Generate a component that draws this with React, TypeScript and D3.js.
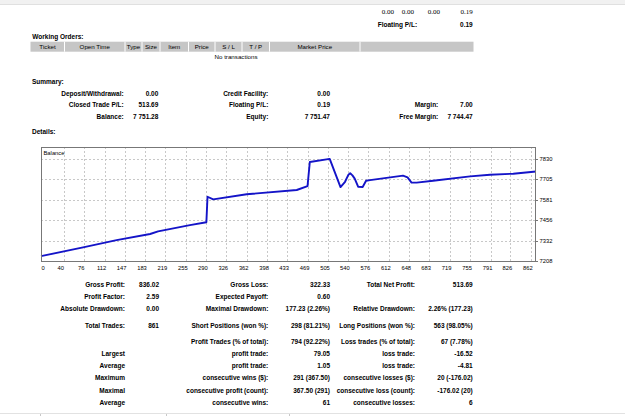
import React from 'react';
import * as d3 from 'd3';

const W = 625;
const H = 416;

// balance curve, by trade number
const balanceTrades = [0, 74, 133, 192, 206, 262, 291, 293, 303, 362, 450, 469, 473, 508, 527, 535, 541, 544, 548, 552, 558, 566, 572, 579, 637, 645, 652, 661, 690, 755, 790, 831, 871];
const balanceValues = [7237.59, 7291, 7335, 7372, 7388, 7426, 7443, 7598, 7582, 7613, 7639, 7663, 7809, 7828, 7657, 7689, 7732, 7741, 7728, 7708, 7659, 7657, 7695, 7699, 7726, 7716, 7684, 7684, 7695, 7722, 7732, 7738, 7751.28];

const xTicks = [0, 40, 76, 112, 147, 183, 219, 255, 290, 326, 362, 398, 433, 469, 505, 540, 576, 612, 648, 683, 719, 755, 791, 826, 862];
const yTicks = [7208, 7332, 7456, 7581, 7705, 7830];

const openTotals = ['0.00', '0.00', '0.00', '0.19'];
const orderColumns = ['Ticket', 'Open Time', 'Type', 'Size', 'Item', 'Price', 'S / L', 'T / P', 'Market Price', ''];

const summaryLabels = [
  ['Deposit/Withdrawal:', 'Credit Facility:', ''],
  ['Closed Trade P/L:', 'Floating P/L:', 'Margin:'],
  ['Balance:', 'Equity:', 'Free Margin:'],
];
const summaryValues = [
  ['0.00', '0.00', ''],
  ['513.69', '0.19', '7.00'],
  ['7 751.28', '7 751.47', '7 744.47'],
];

const statLabels = [
  ['Gross Profit:', 'Gross Loss:', 'Total Net Profit:'],
  ['Profit Factor:', 'Expected Payoff:', ''],
  ['Absolute Drawdown:', 'Maximal Drawdown:', 'Relative Drawdown:'],
  ['Total Trades:', 'Short Positions (won %):', 'Long Positions (won %):'],
  ['', 'Profit Trades (% of total):', 'Loss trades (% of total):'],
  ['Largest', 'profit trade:', 'loss trade:'],
  ['Average', 'profit trade:', 'loss trade:'],
  ['Maximum', 'consecutive wins ($):', 'consecutive losses ($):'],
  ['Maximal', 'consecutive profit (count):', 'consecutive loss (count):'],
  ['Average', 'consecutive wins:', 'consecutive losses:'],
];
const statValues = [
  ['836.02', '322.33', '513.69'],
  ['2.59', '0.60', ''],
  ['0.00', '177.23 (2.26%)', '2.26% (177.23)'],
  ['861', '298 (81.21%)', '563 (98.05%)'],
  ['', '794 (92.22%)', '67 (7.78%)'],
  ['', '79.05', '-16.52'],
  ['', '1.05', '-4.81'],
  ['', '291 (367.50)', '20 (-176.02)'],
  ['', '367.50 (291)', '-176.02 (20)'],
  ['', '61', '6'],
];

// layout
const FONT = "'Liberation Sans', Arial, sans-serif";
const FS = 6.5;
const colEdges = [30.5, 64.5, 125, 142, 160, 188.5, 215, 242, 269.5, 360, 473.5];
const summaryRowsY = [93.3, 104.7, 116];
const summaryLabelX = [123.7, 268.3, 438.3];
const summaryValueX = [158.3, 330, 472.7];
const statRowsY = [284, 296, 308, 325.5, 341, 353.3, 365.5, 377.8, 390, 402.5];
const statLabelX = [125, 268.3, 415];
const statValueX = [159, 330, 472.7];

const T = ({ x, y, s, anchor = 'end', bold = true, size = FS, family = FONT }: any) => (
  <text x={x} y={y} textAnchor={anchor} dominantBaseline="central" fontFamily={family}
    fontSize={size} fontWeight={bold ? 700 : 400} fill="#000">{s}</text>
);

export default function App() {
  const x = d3.scaleLinear().domain([0, 871]).range([41, 536]);
  const y = d3.scaleLinear().domain([7202, 7900]).range([262, 147]);
  const pts = balanceTrades.map((t, i) => [t, balanceValues[i]] as [number, number]);
  const line = d3.line<[number, number]>().x(d => x(d[0])).y(d => y(d[1]));

  return (
    <div style={{ position: 'fixed', left: 0, top: 0 }}>
      <svg width={W} height={H} style={{ display: 'block', background: '#fff' }}>
        <rect x={0} y={0} width={W} height={4} fill="#f1f1f1" />
        <line x1={0} x2={W} y1={4.5} y2={4.5} stroke="#e0e0e0" />

        {openTotals.map((v, i) => (
          <T key={i} x={[394, 414, 440, 472.7][i]} y={11.7} s={v} bold={false} size={7}
            family="'Liberation Serif', serif" />
        ))}
        <T x={377.7} y={24} s="Floating P/L:" anchor="start" />
        <T x={472.7} y={24} s="0.19" />

        <T x={32.3} y={36.7} s="Working Orders:" anchor="start" />
        <rect x={colEdges[0]} y={41.7} width={colEdges[colEdges.length - 1] - colEdges[0]} height={10} fill="#c6c6c6" />
        {colEdges.slice(1, -1).map((e, i) => (
          <line key={i} x1={e} x2={e} y1={41.7} y2={51.7} stroke="#fff" />
        ))}
        {orderColumns.map((c, i) => (
          <T key={c + i} x={(colEdges[i] + colEdges[i + 1]) / 2} y={46.7} s={c} anchor="middle" bold={false} size={6.2} />
        ))}
        <T x={236} y={56} s="No transactions" anchor="middle" bold={false} size={6.2} />

        <T x={32} y={81} s="Summary:" anchor="start" />
        {summaryLabels.map((row, r) => row.map((s, c) => (
          <T key={`sl${r}${c}`} x={summaryLabelX[c]} y={summaryRowsY[r]} s={s} />
        )))}
        {summaryValues.map((row, r) => row.map((s, c) => (
          <T key={`sv${r}${c}`} x={summaryValueX[c]} y={summaryRowsY[r]} s={s} />
        )))}
        <T x={32} y={131} s="Details:" anchor="start" />

        {/* balance graph */}
        <rect x={41} y={147} width={495} height={115} fill="#fff" />
        {yTicks.slice(1).map(t => (
          <line key={t} x1={41} x2={536} y1={Math.round(y(t)) + 0.5} y2={Math.round(y(t)) + 0.5}
            stroke="#c8c8c8" strokeDasharray="2,2" />
        ))}
        {xTicks.slice(1).map(t => (
          <line key={t} x1={Math.round(x(t)) + 0.5} x2={Math.round(x(t)) + 0.5} y1={147} y2={262}
            stroke="#c8c8c8" strokeDasharray="2,2" />
        ))}
        <path d={line(pts) || ''} fill="none" stroke="#1414c8" strokeWidth={1.9} strokeLinejoin="round" />
        <rect x={41.5} y={147.5} width={494} height={114} fill="none" stroke="#777" />
        <T x={43.5} y={152.5} s="Balance" anchor="start" bold={false} size={5.8} />
        {yTicks.map(t => (
          <g key={t}>
            <line x1={536} x2={538} y1={Math.round(y(t)) + 0.5} y2={Math.round(y(t)) + 0.5} stroke="#777" />
            <T x={539.5} y={y(t)} s={String(t)} anchor="start" bold={false} size={5.8} />
          </g>
        ))}
        {xTicks.map(t => (
          <T key={t} x={t === 0 ? 41.5 : x(t) - 3} y={268} s={String(t)} anchor={t === 0 ? 'start' : 'middle'}
            bold={false} size={5.8} />
        ))}

        {statLabels.map((row, r) => row.map((s, c) => (
          <T key={`tl${r}${c}`} x={statLabelX[c]} y={statRowsY[r]} s={s} />
        )))}
        {statValues.map((row, r) => row.map((s, c) => (
          <T key={`tv${r}${c}`} x={statValueX[c]} y={statRowsY[r]} s={s} />
        )))}

        <line x1={0} x2={W} y1={413.5} y2={413.5} stroke="#e2e2e2" />
        {[40, 166, 289].map(px => (
          <line key={px} x1={px + 0.5} x2={px + 0.5} y1={414} y2={416} stroke="#c8c8c8" />
        ))}
      </svg>
    </div>
  );
}
